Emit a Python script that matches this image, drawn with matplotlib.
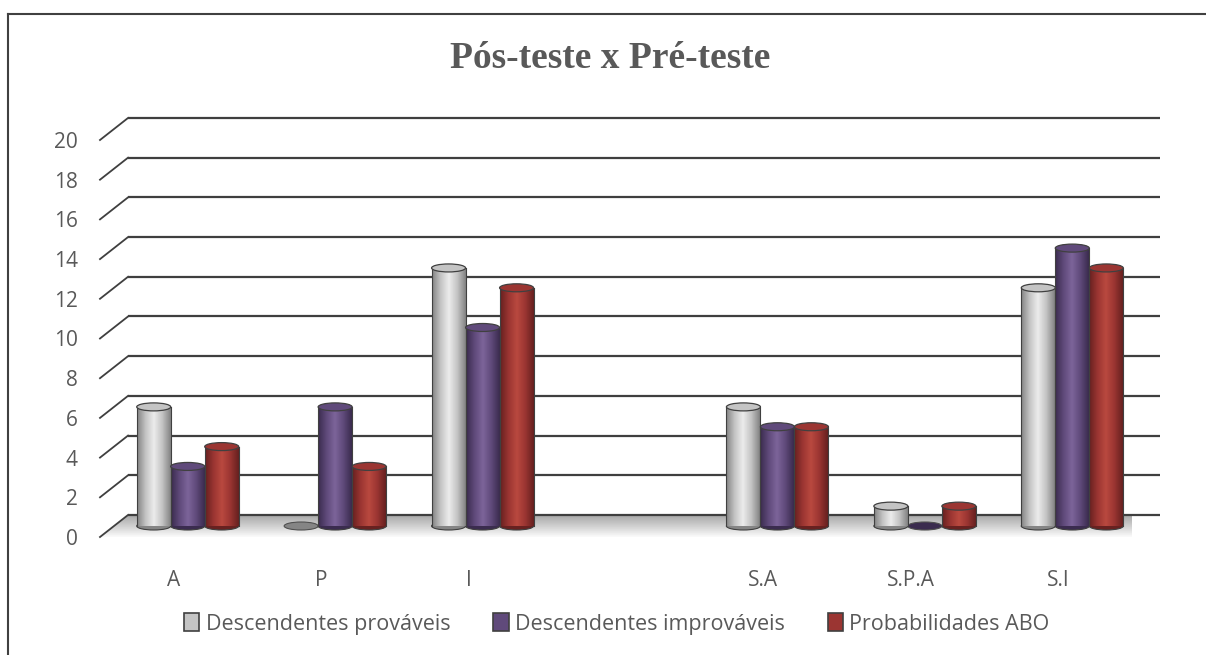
import numpy as np
import matplotlib
matplotlib.use('Agg')
import matplotlib.pyplot as plt
from matplotlib.patches import Rectangle, Ellipse, Polygon, Patch
from matplotlib.colors import LinearSegmentedColormap

categories = ['A', 'P', 'I', '', 'S.A', 'S.P.A', 'S.I']
series_names = ['Descendentes prováveis', 'Descendentes improváveis', 'Probabilidades ABO']
provaveis = [6, 0, 13, None, 6, 1, 12]
improvaveis = [3, 6, 10, None, 5, 0, 14]
probabilidades = [4, 3, 12, None, 5, 1, 13]
yticks = list(range(0, 21, 2))

# base, light, dark for each series
colors = [('#c4c4c4', '#ececec', '#858585'),
          ('#604a7b', '#7c649a', '#3b2c4f'),
          ('#9b3532', '#b9493f', '#682120')]
grid_color = '#3f3f3f'
text_color = '#595959'

fig = plt.figure(figsize=(12.06, 6.55), dpi=100)
ax = fig.add_axes([100 / 1206, 118 / 655, 1032 / 1206, 397 / 655])
ax.set_xlim(-0.5, 6.5)
ax.set_ylim(0, 20)

# depth of the 3d box in data units
DX = 28 / (1032 / 7)
DY = 22 / (397 / 20)

# floor with gradient
floor = Polygon([(-0.5, 0), (6.5, 0), (6.5 + DX, DY), (-0.5 + DX, DY)], closed=True,
                facecolor='none', edgecolor='none')
ax.add_patch(floor)
grad = np.linspace(0, 1, 50).reshape(-1, 1)
floor_cmap = LinearSegmentedColormap.from_list('floor', ['#fbfbfb', '#d0d0d0', '#a8a8a8'])
im = ax.imshow(grad, extent=(-0.5, 6.5 + DX, 0, DY), origin='lower', cmap=floor_cmap,
               aspect='auto', zorder=0.5)
im.set_clip_path(floor)

# back wall gridlines with diagonal side lines
for v in yticks:
    ax.plot([-0.5 + DX, 6.5 + DX], [v + DY, v + DY], color=grid_color, lw=1.6,
            clip_on=False, zorder=1, solid_capstyle='butt')
    ax.plot([-0.5, -0.5 + DX], [v, v + DY], color=grid_color, lw=1.3,
            clip_on=False, zorder=1)

# cylinders
bw = 34 / (1032 / 7)
eh = 8 / (397 / 20)
all_series = [provaveis, improvaveis, probabilidades]
for s, vals in enumerate(all_series):
    base, light, dark = colors[s]
    cmap = LinearSegmentedColormap.from_list('c%d' % s, [dark, base, light, base, dark])
    for i, v in enumerate(vals):
        if v is None:
            continue
        xc = i + (s - 1) * bw + DX / 2
        y0 = DY / 2
        x0 = xc - bw / 2
        if v > 0:
            # bottom half ellipse
            bot = Ellipse((xc, y0), bw, eh, facecolor=dark, edgecolor='#404040', lw=0.8, zorder=2)
            ax.add_patch(bot)
            body = Rectangle((x0, y0), bw, v, facecolor='none', edgecolor='none', zorder=3)
            ax.add_patch(body)
            bim = ax.imshow(np.linspace(0, 1, 40).reshape(1, -1), extent=(x0, x0 + bw, y0, y0 + v),
                            cmap=cmap, aspect='auto', zorder=3)
            bim.set_clip_path(body)
            ax.plot([x0, x0], [y0, y0 + v], color='#404040', lw=0.8, zorder=3.5)
            ax.plot([x0 + bw, x0 + bw], [y0, y0 + v], color='#404040', lw=0.8, zorder=3.5)
            top = Ellipse((xc, y0 + v), bw, eh, facecolor=base, edgecolor='#404040', lw=0.9, zorder=4)
            ax.add_patch(top)
        else:
            disc = Ellipse((xc, y0), bw, eh, facecolor=dark, edgecolor='#505050', lw=0.8, zorder=2)
            ax.add_patch(disc)

ax.set_xlim(-0.5, 6.5)
ax.set_ylim(0, 20)

for sp in ax.spines.values():
    sp.set_visible(False)
ax.set_yticks(yticks)
ax.set_yticklabels([str(t) for t in yticks])
ax.set_xticks([i for i, c in enumerate(categories) if c])
ax.set_xticklabels([c for c in categories if c])
ax.tick_params(axis='y', length=0, pad=16, labelsize=15, labelcolor=text_color)
ax.tick_params(axis='x', length=0, pad=24, labelsize=15, labelcolor=text_color)
for lab in ax.get_xticklabels() + ax.get_yticklabels():
    lab.set_family('Open Sans')

fig.text(610 / 1206, 1 - 58 / 655, 'Pós-teste x Pré-teste', ha='center', va='center',
         fontsize=27, fontweight='bold', family='Liberation Serif', color=text_color)

handles = [Patch(facecolor=colors[k][0], edgecolor='#404040', lw=1.2) for k in range(3)]
leg = fig.legend(handles, series_names, loc='center', bbox_to_anchor=(617 / 1206, 1 - 624 / 655),
                 ncol=3, frameon=False, handlelength=0.7, handleheight=0.85, handletextpad=0.3,
                 columnspacing=2.0, prop={'family': 'Open Sans', 'size': 15.5})
for t in leg.get_texts():
    t.set_color(text_color)

# outer frame
fig.add_artist(plt.Line2D([8 / 1206, 8 / 1206], [0, 1 - 14 / 655], color='#404040', lw=1.5,
                          transform=fig.transFigure))
fig.add_artist(plt.Line2D([8 / 1206, 1], [1 - 14 / 655, 1 - 14 / 655], color='#404040', lw=1.5,
                          transform=fig.transFigure))

fig.savefig('out.png', dpi=100)
